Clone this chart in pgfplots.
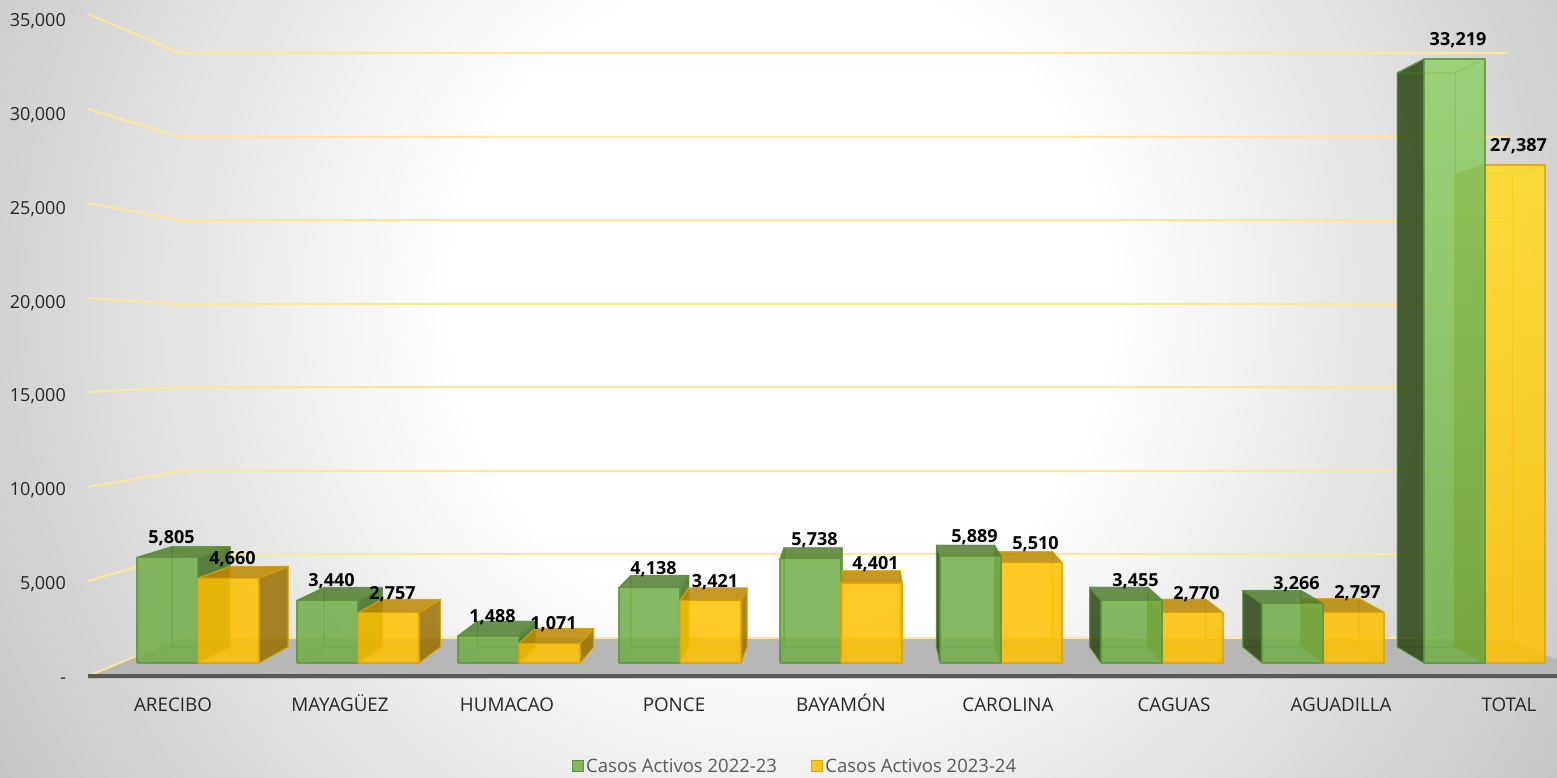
\documentclass[border=0pt]{standalone}
\usepackage{fontspec}
\setmainfont{Open Sans}
\usepackage{xfp}
\usepackage{pgfplots}
\pgfplotsset{compat=1.18}
\definecolor{gbase}{HTML}{70AD47}
\definecolor{gedge}{HTML}{5B9438}
\definecolor{gtop}{HTML}{507F30}
\definecolor{gright}{HTML}{3F6F22}
\definecolor{gdark}{HTML}{2A4412}
\definecolor{glight}{HTML}{91D168}
\definecolor{ybase}{HTML}{FFC000}
\definecolor{yedge}{HTML}{DDA400}
\definecolor{ytop}{HTML}{BA8800}
\definecolor{yside}{HTML}{997000}
\definecolor{ylight}{HTML}{FEDB1F}
\definecolor{gridc}{HTML}{FFE699}
\definecolor{floorc}{HTML}{B7B7B7}
\definecolor{txt}{HTML}{262626}
\definecolor{legtxt}{HTML}{595959}
\definecolor{bgout}{HTML}{C3C3C3}
\pgfdeclareradialshading{bgshade}{\pgfpoint{0bp}{0bp}}{color(0bp)=(white); color(8.25bp)=(white); color(23.5bp)=(bgout); color(100bp)=(bgout)}
\pgfplotsset{
  face/.style={forget plot, line width=1.2pt, line join=round, fill opacity=0.85, draw opacity=0.75},
  gedgeonly/.style={face, draw=gedge, fill=none, draw opacity=0.55},
  yedgeonly/.style={face, draw=yedge, fill=none, draw opacity=0.55},
  gA back/.style={gedgeonly}, gA left/.style={gedgeonly},
  gA right/.style={face, draw=gedge, fill=gright},
  gA top/.style={face, draw=gedge, fill=gtop},
  gA front/.style={face, draw=gedge, fill=gbase},
  yA back/.style={yedgeonly}, yA left/.style={yedgeonly},
  yA right/.style={face, draw=yedge, fill=yside},
  yA top/.style={face, draw=yedge, fill=ytop},
  yA front/.style={face, draw=yedge, fill=ybase},
  gB back/.style={gedgeonly}, gB right/.style={gedgeonly},
  gB left/.style={face, draw=gedge, fill=gdark},
  gB top/.style={face, draw=gedge, fill=gtop},
  gB front/.style={face, draw=gedge, fill=gbase},
  yB back/.style={yedgeonly}, yB right/.style={yedgeonly},
  yB left/.style={face, draw=yedge, fill=yside},
  yB top/.style={face, draw=yedge, fill=ytop},
  yB front/.style={face, draw=yedge, fill=ybase},
  gT back/.style={gedgeonly}, gT right/.style={gedgeonly}, gT top/.style={gedgeonly},
  gT left/.style={face, draw=gedge, fill=gdark},
  gT front/.style={face, draw=gedge, top color=glight, bottom color=gbase},
  yT back/.style={yedgeonly}, yT right/.style={yedgeonly}, yT top/.style={yedgeonly},
  yT left/.style={face, draw=yedge, fill=yside},
  yT front/.style={face, draw=yedge, top color=ylight, bottom color=ybase},
}
% one 3-D bar: left edge of the front face (px), value, style prefix
\newcommand{\barfaces}[3]{%
  \edef\xa{\fpeval{#1}}%
  \edef\xb{\fpeval{#1+61}}%
  \edef\xc{\fpeval{0.952*#1+41.5}}%
  \edef\xd{\fpeval{0.952*(#1+61)+41.5}}%
  \edef\yb{\fpeval{0.9505*#2+880}}%
  \addplot[#3 back] coordinates {(\xc,880)(\xd,880)(\xd,\yb)(\xc,\yb)(\xc,880)};
  \addplot[#3 left] coordinates {(\xa,0)(\xc,880)(\xc,\yb)(\xa,#2)(\xa,0)};
  \addplot[#3 right] coordinates {(\xb,0)(\xd,880)(\xd,\yb)(\xb,#2)(\xb,0)};
  \addplot[#3 top] coordinates {(\xa,#2)(\xb,#2)(\xd,\yb)(\xc,\yb)(\xa,#2)};
  \addplot[#3 front] coordinates {(\xa,0)(\xb,0)(\xb,#2)(\xa,#2)(\xa,0)};
}
\begin{document}
\begin{tikzpicture}[x=1pt,y=1pt]
\path[use as bounding box] (0,0) rectangle (1557,777);
\begin{scope}
\clip (0,0) rectangle (1557,777);
\path[shading=bgshade] (-220,-523) rectangle (1780,1477);
\end{scope}
% frame: walls, floor, axis labels
\begin{axis}[
  at={(88pt,100pt)}, anchor=south west,
  scale only axis, width=1469pt, height=657pt,
  xmin=88, xmax=1557, ymin=0, ymax=35000,
  clip=false,
  scaled x ticks=false, scaled y ticks=false,
  axis line style={draw=none},
  major tick length=0pt, tick style={draw=none},
  xtick={173,340,507,674,841,1008,1174,1341,1509},
  xticklabels={ARECIBO,MAYAGÜEZ,HUMACAO,PONCE,BAYAMÓN,CAROLINA,CAGUAS,AGUADILLA,TOTAL},
  ytick={0,5000,10000,15000,20000,25000,30000,35000},
  yticklabels={-\hspace{8pt},{5,000},{10,000},{15,000},{20,000},{25,000},{30,000},{35,000}},
  xticklabel style={font=\fontsize{18.8}{20}\selectfont, text=txt, anchor=base, yshift=-34pt, inner sep=0pt},
  yticklabel style={font=\fontsize{18}{20}\selectfont, text=txt, anchor=base east, xshift=-22pt, yshift=-6.5pt, inner sep=0pt},
]
\addplot[forget plot, fill=floorc, draw=none] coordinates {(88,53)(180,2078)(1507,2078)(1557,906)(1557,53)(88,53)};
\addplot[forget plot, gridc, line width=2pt] coordinates {(88,53)(180,2078)(1507,2078)};
\addplot[forget plot, gridc, line width=2pt] coordinates {(88,5114)(180,6553)(1507,6553)};
\addplot[forget plot, gridc, line width=2pt] coordinates {(88,10122)(180,10975)(1507,10975)};
\addplot[forget plot, gridc, line width=2pt] coordinates {(88,15183)(180,15449)(1507,15449)};
\addplot[forget plot, gridc, line width=2pt] coordinates {(88,20192)(180,19871)(1507,19871)};
\addplot[forget plot, gridc, line width=2pt] coordinates {(88,25251)(180,24346)(1507,24346)};
\addplot[forget plot, gridc, line width=2pt] coordinates {(88,30259)(180,28767)(1507,28767)};
\addplot[forget plot, gridc, line width=2pt] coordinates {(88,35320)(180,33242)(1507,33242)};
\addplot[forget plot, black!30, opacity=0.6, line width=2pt] coordinates {(88,-40)(1557,-40)};
\addplot[forget plot, black!65, line width=3.2pt] coordinates {(88,53)(1557,53)};
\end{axis}
% bars
\begin{axis}[
  at={(88pt,100pt)}, anchor=south west,
  scale only axis, width=1469pt, height=657pt,
  xmin=88, xmax=1557, ymin=-770.08, ymax=35368.5,
  clip=false, hide axis,
  /pgf/number format/.cd, fixed, precision=0, 1000 sep={,}, assume math mode=true,
  /pgfplots/.cd,
  legend style={at={(axis description cs:0.4813,-0.1355)}, anchor=center, draw=none, fill=none,
    font=\fontsize{18.5}{20}\selectfont, text=legtxt, legend columns=2,
    /tikz/every even column/.append style={column sep=32pt}},
  legend cell align=left,
  legend image code/.code={\draw[#1,line width=1.3pt,fill opacity=0.85] (0pt,-5.5pt) rectangle (11pt,5.5pt);},
  every node near coord/.append style={font=\bfseries\fontsize{18}{20}\selectfont, text=black, anchor=center, xshift=4pt, yshift=19pt, inner sep=0pt},
]
\addlegendimage{draw=gedge, fill=gbase}
\addlegendentry{Casos Activos 2022-23}
\addlegendimage{draw=yedge, fill=ybase}
\addlegendentry{Casos Activos 2023-24}
% left of the vanishing point: yellow in front of green
\barfaces{137}{5805}{gA}\barfaces{198}{4660}{yA}
\barfaces{297}{3440}{gA}\barfaces{358}{2757}{yA}
\barfaces{458}{1488}{gA}\barfaces{519}{1071}{yA}
\barfaces{619}{4138}{gA}\barfaces{680}{3421}{yA}
\barfaces{780}{5738}{gA}\barfaces{841}{4401}{yA}
% right of it: green in front of yellow
\barfaces{1001}{5510}{yB}\barfaces{940}{5889}{gB}
\barfaces{1162}{2770}{yB}\barfaces{1101}{3455}{gB}
\barfaces{1323}{2797}{yB}\barfaces{1262}{3266}{gB}
\barfaces{1484}{27387}{yT}\barfaces{1424}{33219}{gT}
% value labels
\addplot[forget plot, draw=none, mark=none, nodes near coords] coordinates {
  (167.5,5805)(327.5,3440)(488.5,1488)(649.5,4138)(810.5,5738)(970.5,5889)(1131.5,3455)(1292.5,3266)(1454,33219)};
\addplot[forget plot, draw=none, mark=none, nodes near coords] coordinates {
  (228.5,4660)(388.5,2757)(549.5,1071)(711,3421)(871.5,4401)(1031.5,5510)(1192.5,2770)(1353.5,2797)(1514.5,27387)};
\end{axis}
\end{tikzpicture}
\end{document}
